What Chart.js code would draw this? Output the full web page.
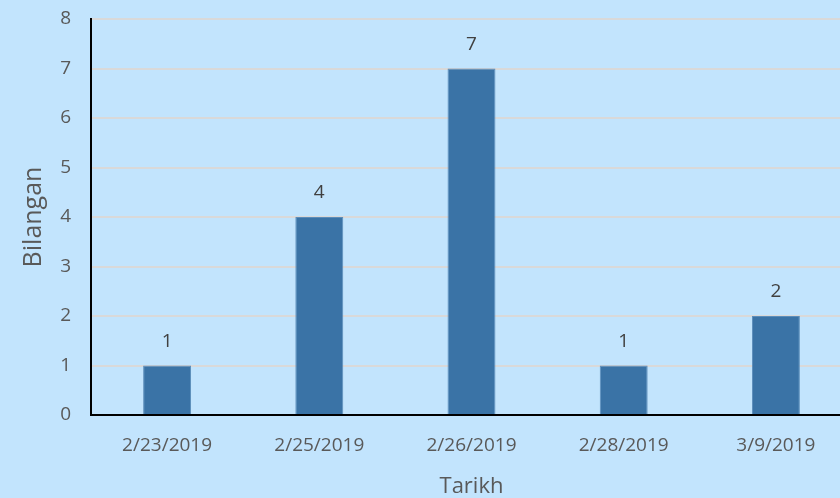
<!DOCTYPE html>
<html>
<head>
<meta charset="utf-8">
<script src="https://cdn.jsdelivr.net/npm/chart.js@4"></script>
<style>
  html, body { margin: 0; padding: 0; background: #C2E4FD; overflow: hidden; }
  #wrap { width: 852px; height: 498px; position: relative; }
</style>
</head>
<body>
<div id="wrap"><canvas id="chart"></canvas></div>
<script>
// chart data
const dates = ['2/23/2019', '2/25/2019', '2/26/2019', '2/28/2019', '3/9/2019'];
const counts = [1, 4, 7, 1, 2];
const yTicks = [0, 1, 2, 3, 4, 5, 6, 7, 8];

const FONT = "'Open Sans', 'Noto Sans', sans-serif";

// draw the value above each bar
const valueLabels = {
  id: 'valueLabels',
  afterDatasetsDraw(chart) {
    const ctx = chart.ctx;
    const meta = chart.getDatasetMeta(0);
    ctx.save();
    ctx.font = '19px ' + FONT;
    ctx.fillStyle = '#404040';
    ctx.textAlign = 'center';
    ctx.textBaseline = 'middle';
    meta.data.forEach(function (bar, i) {
      ctx.fillText(String(counts[i]), bar.x, bar.y - 24);
    });
    ctx.restore();
  }
};

new Chart(document.getElementById('chart').getContext('2d'), {
  type: 'bar',
  data: {
    labels: dates,
    datasets: [{
      data: counts,
      backgroundColor: '#3A73A6',
      borderColor: '#5B8DBA',
      borderWidth: 1,
      categoryPercentage: 1,
      barPercentage: 0.315
    }]
  },
  options: {
    responsive: true,
    maintainAspectRatio: false,
    animation: false,
    layout: { padding: 0 },
    plugins: {
      legend: { display: false },
      tooltip: { enabled: false }
    },
    scales: {
      x: {
        grid: { display: false, drawTicks: false },
        border: { display: true, color: '#000000', width: 2 },
        ticks: { color: '#595959', font: { family: FONT, size: 19 }, padding: 19, maxRotation: 0 },
        title: { display: true, text: 'Tarikh', color: '#595959', font: { family: FONT, size: 22 }, padding: { top: 0, bottom: -2 } },
        afterFit(axis) { axis.height = 83; }
      },
      y: {
        min: 0,
        max: 8,
        afterBuildTicks(axis) { axis.ticks = yTicks.map(v => ({ value: v })); },
        grid: { color: '#D9D9D9', lineWidth: 2, drawTicks: false },
        border: { display: true, color: '#000000', width: 2 },
        ticks: { color: '#595959', font: { family: FONT, size: 19 }, padding: 20 },
        title: { display: true, text: 'Bilangan', color: '#595959', font: { family: FONT, size: 25 }, padding: { top: 19 } },
        afterFit(axis) {
          axis.width = 91;
          axis.paddingTop = 19;
          axis.paddingBottom = 0;
        }
      }
    }
  },
  plugins: [valueLabels]
});
</script>
</body>
</html>
